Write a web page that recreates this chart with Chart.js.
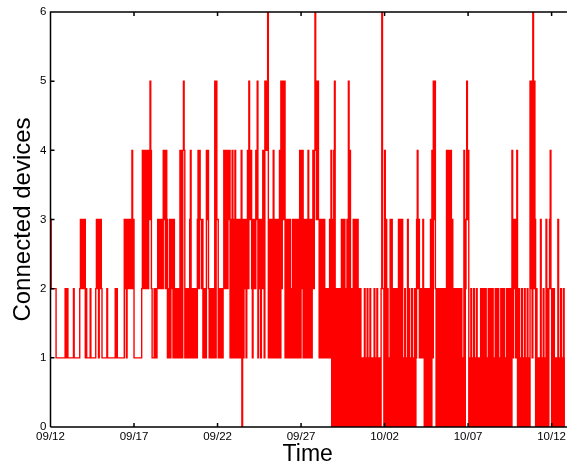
<!DOCTYPE html>
<html>
<head>
<meta charset="utf-8">
<script src="https://cdn.jsdelivr.net/npm/chart.js@4"></script>
<style>
  html, body { margin: 0; padding: 0; background: #fff; overflow: hidden; }
</style>
</head>
<body>
<canvas id="chart" width="569" height="465"></canvas>
<script>
// connected devices, one digit per hour, one string per day (from 09/12 00:00)
const weekSep12 = [
  '322222221111111111111212',
  '211111111211111111232323',
  '231211111211111112323132',
  '321111111211111111111212',
  '111111111132313232323423',
  '111111111112424324242435',
  '421112121232323232434243'
];
const weekSep19 = [
  '121312321312121212414145',
  '412121213411211212134243',
  '323121214342121212125153',
  '312121212424242434131413',
  '141313131340313231342534',
  '421323243513231324315454',
  '613131314131313134152535'
];
const weekSep26 = [
  '513131313121312312313141',
  '424131313141313134246535',
  '531312312312121213140304',
  '502020202030303020305040',
  '020303030302020101020102',
  '010201010201020101026220',
  '403020103030202020203030'
];
const weekOct03 = [
  '030102010302010201020134',
  '231212131020202020304153',
  '520202020202020204040404',
  '031020202020202010402353',
  '401020102010201010202020',
  '020102020202010202020102',
  '020201020202020413231240'
];
const daysOct10 = [
  '020102010201020105251625',
  '302010103010201030202342',
  '02020101030102010201'
];

const tickDays = [0, 5, 10, 15, 20, 25, 30];
const tickLabels = ['09/12', '09/17', '09/22', '09/27', '10/02', '10/07', '10/12'];
const yTicks = [0, 1, 2, 3, 4, 5, 6];
const lastDay = 30.8;

const days = [].concat(weekSep12, weekSep19, weekSep26, weekOct03, daysOct10);
const points = [];
days.forEach((s, d) => {
  for (let h = 0; h < s.length; h++) {
    points.push({ x: d + h / 24, y: Number(s[h]) });
  }
});

// box round the plot with small inward ticks
const frame = {
  id: 'frame',
  afterDraw(chart) {
    const { ctx, chartArea: a, scales: { x, y } } = chart;
    ctx.save();
    ctx.strokeStyle = '#000';
    ctx.lineWidth = 1.5;
    ctx.beginPath();
    ctx.moveTo(a.left, a.bottom);
    ctx.lineTo(a.left, a.top);
    ctx.lineTo(a.right + 2, a.top);
    ctx.moveTo(a.left, a.bottom);
    ctx.lineTo(a.right + 2, a.bottom);
    tickDays.forEach(d => {
      const px = x.getPixelForValue(d);
      ctx.moveTo(px, a.bottom);
      ctx.lineTo(px, a.bottom - 4);
      ctx.moveTo(px, a.top);
      ctx.lineTo(px, a.top + 4);
    });
    yTicks.forEach(v => {
      const py = y.getPixelForValue(v);
      ctx.moveTo(a.left, py);
      ctx.lineTo(a.left + 4, py);
    });
    ctx.stroke();
    ctx.restore();
  }
};

const ctx = document.getElementById('chart').getContext('2d');
new Chart(ctx, {
  type: 'line',
  data: {
    datasets: [{
      data: points,
      borderColor: '#ff0000',
      borderWidth: 1.4,
      pointRadius: 0,
      stepped: true,
      fill: false
    }]
  },
  options: {
    responsive: false,
    animation: false,
    devicePixelRatio: 1,
    layout: { padding: { top: 12, right: 0, left: 0, bottom: 0 } },
    plugins: { legend: { display: false }, tooltip: { enabled: false } },
    scales: {
      x: {
        type: 'linear',
        min: 0,
        max: lastDay,
        afterBuildTicks: s => { s.ticks = tickDays.map(v => ({ value: v })); },
        afterFit: s => { s.height = 38; },
        grid: { display: false, drawTicks: false },
        border: { display: false },
        ticks: {
          maxRotation: 0,
          padding: 3,
          color: '#000',
          font: { family: 'Liberation Sans', size: 11.5 },
          callback: v => tickLabels[tickDays.indexOf(v)]
        },
        title: {
          display: true,
          text: 'Time',
          color: '#000',
          padding: { top: 0, bottom: 0 },
          font: { family: 'Liberation Sans', size: 23, lineHeight: 0.87 }
        }
      },
      y: {
        min: 0,
        max: 6,
        afterBuildTicks: s => { s.ticks = yTicks.map(v => ({ value: v })); },
        afterFit: s => { s.width = 50.5; },
        grid: { display: false, drawTicks: false },
        border: { display: false },
        ticks: {
          padding: 4,
          color: '#000',
          font: { family: 'Liberation Sans', size: 11.5 }
        },
        title: {
          display: true,
          text: 'Connected devices',
          color: '#000',
          padding: { top: 9, bottom: 0 },
          font: { family: 'Liberation Sans', size: 24 }
        }
      }
    }
  },
  plugins: [frame]
});
</script>
</body>
</html>
